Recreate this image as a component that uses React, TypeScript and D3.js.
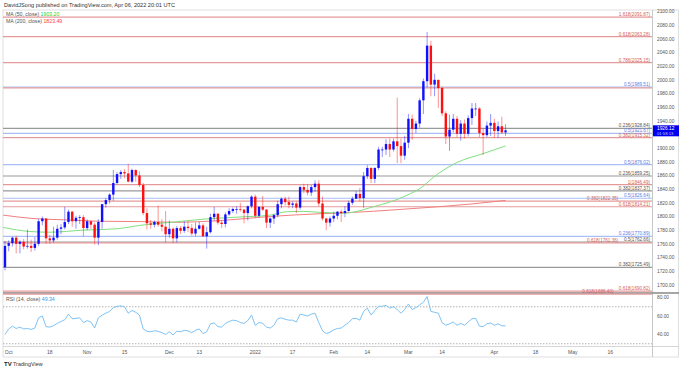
import React from 'react';
import * as d3 from 'd3';

// daily XAUUSD candles, index -1 = 2021-09-30, 0 = 2021-10-01 ...
const dates = [
  '09-30', '10-01', '10-04', '10-05', '10-06', '10-07', '10-08', '10-11', '10-12', '10-13', '10-14', '10-15',
  '10-18', '10-19', '10-20', '10-21', '10-22', '10-25', '10-26', '10-27', '10-28', '10-29',
  '11-01', '11-02', '11-03', '11-04', '11-05', '11-08', '11-09', '11-10', '11-11', '11-12', '11-15', '11-16',
  '11-17', '11-18', '11-19', '11-22', '11-23', '11-24', '11-25', '11-26', '11-29', '11-30',
  '12-01', '12-02', '12-03', '12-06', '12-07', '12-08', '12-09', '12-10', '12-13', '12-14', '12-15', '12-16',
  '12-17', '12-20', '12-21', '12-22', '12-23', '12-24', '12-27', '12-28', '12-29', '12-30', '12-31',
  '01-03', '01-04', '01-05', '01-06', '01-07', '01-10', '01-11', '01-12', '01-13', '01-14', '01-17', '01-18',
  '01-19', '01-20', '01-21', '01-24', '01-25', '01-26', '01-27', '01-28', '01-31',
  '02-01', '02-02', '02-03', '02-04', '02-07', '02-08', '02-09', '02-10', '02-11', '02-14', '02-15', '02-16',
  '02-17', '02-18', '02-21', '02-22', '02-23', '02-24', '02-25', '02-28',
  '03-01', '03-02', '03-03', '03-04', '03-07', '03-08', '03-09', '03-10', '03-11', '03-14', '03-15', '03-16',
  '03-17', '03-18', '03-21', '03-22', '03-23', '03-24', '03-25', '03-28', '03-29', '03-30', '03-31',
  '04-01', '04-04', '04-05', '04-06',
];
const opens = [
  1726, 1757, 1761, 1769, 1760, 1763, 1756, 1757, 1754, 1760, 1793, 1797,
  1768, 1765, 1769, 1782, 1784, 1792, 1807, 1793, 1798, 1799,
  1783, 1793, 1788, 1769, 1792, 1818, 1824, 1832, 1849, 1862, 1865, 1863,
  1851, 1868, 1860, 1846, 1805, 1790, 1788, 1792, 1788, 1785,
  1774, 1782, 1768, 1783, 1779, 1785, 1783, 1775, 1782, 1787, 1771, 1777,
  1799, 1804, 1791, 1789, 1803, 1808, 1811, 1811, 1810, 1805, 1815,
  1829, 1801, 1814, 1810, 1791, 1797, 1802, 1818, 1826, 1821, 1817, 1819,
  1813, 1843, 1839, 1835, 1843, 1848, 1819, 1797, 1791,
  1797, 1801, 1807, 1805, 1808, 1820, 1826, 1833, 1827, 1859, 1871, 1855,
  1871, 1898, 1898, 1906, 1898, 1910, 1903, 1889,
  1908, 1943, 1928, 1936, 1970, 1998, 2050, 1993, 2000, 1988, 1951, 1917,
  1927, 1943, 1921, 1936, 1921, 1944, 1958, 1958, 1922, 1919, 1933,
  1937, 1925, 1932, 1923,
];
const highs = [
  1764, 1765, 1770, 1772, 1765, 1767, 1781, 1766, 1770, 1796, 1800, 1797,
  1773, 1785, 1788, 1789, 1814, 1810, 1808, 1801, 1802, 1802,
  1796, 1794, 1791, 1796, 1818, 1827, 1834, 1868, 1865, 1868, 1869, 1877,
  1870, 1869, 1866, 1849, 1812, 1795, 1794, 1816, 1796, 1808,
  1794, 1784, 1786, 1786, 1793, 1793, 1789, 1791, 1792, 1790, 1785, 1804,
  1814, 1805, 1794, 1806, 1812, 1813, 1815, 1820, 1811, 1816, 1831,
  1832, 1815, 1830, 1811, 1799, 1804, 1823, 1828, 1829, 1829, 1822, 1822,
  1845, 1848, 1847, 1846, 1853, 1853, 1829, 1798, 1800,
  1807, 1808, 1810, 1815, 1823, 1829, 1837, 1842, 1865, 1875, 1872, 1872,
  1902, 1902, 1913, 1914, 1914, 1974, 1914, 1918,
  1950, 1949, 1940, 1973, 2002, 2070, 2057, 2009, 2000, 1990, 1954, 1949,
  1950, 1947, 1941, 1942, 1948, 1966, 1966, 1960, 1929, 1939, 1950,
  1943, 1939, 1946, 1935,
];
const lows = [
  1721, 1749, 1756, 1746, 1746, 1752, 1753, 1748, 1750, 1757, 1787, 1760,
  1760, 1762, 1766, 1774, 1781, 1789, 1785, 1782, 1789, 1771,
  1780, 1782, 1759, 1758, 1782, 1813, 1819, 1823, 1847, 1855, 1856, 1850,
  1849, 1851, 1843, 1802, 1781, 1782, 1784, 1785, 1778, 1762,
  1769, 1761, 1762, 1774, 1776, 1777, 1772, 1771, 1781, 1770, 1753, 1775,
  1794, 1788, 1783, 1784, 1801, 1805, 1804, 1807, 1790, 1794, 1812,
  1798, 1799, 1808, 1783, 1783, 1789, 1799, 1812, 1816, 1812, 1812, 1805,
  1810, 1834, 1831, 1830, 1836, 1815, 1794, 1780, 1785,
  1792, 1796, 1792, 1799, 1807, 1817, 1826, 1822, 1813, 1855, 1849, 1849,
  1868, 1887, 1890, 1887, 1895, 1878, 1878, 1883,
  1900, 1912, 1922, 1930, 1950, 1989, 1976, 1976, 1959, 1947, 1906, 1896,
  1923, 1916, 1911, 1914, 1917, 1934, 1947, 1916, 1890, 1916, 1918,
  1915, 1915, 1921, 1918,
];
const closes = [
  1757, 1761, 1769, 1760, 1763, 1756, 1757, 1754, 1760, 1793, 1797, 1768,
  1765, 1769, 1782, 1784, 1792, 1807, 1793, 1798, 1799, 1783,
  1793, 1788, 1769, 1792, 1818, 1824, 1832, 1849, 1862, 1865, 1863, 1851,
  1868, 1860, 1846, 1805, 1790, 1788, 1792, 1788, 1785, 1774,
  1782, 1768, 1783, 1779, 1785, 1783, 1775, 1782, 1787, 1771, 1777, 1799,
  1804, 1791, 1789, 1803, 1808, 1811, 1811, 1810, 1805, 1815, 1829,
  1801, 1814, 1810, 1791, 1797, 1802, 1818, 1826, 1821, 1817, 1819, 1813,
  1843, 1839, 1835, 1843, 1848, 1819, 1797, 1791, 1797,
  1801, 1807, 1805, 1808, 1820, 1826, 1833, 1827, 1859, 1871, 1855, 1871,
  1898, 1898, 1906, 1898, 1910, 1903, 1889, 1908,
  1943, 1928, 1936, 1970, 1998, 2050, 1993, 2000, 1988, 1951, 1917, 1927,
  1943, 1921, 1936, 1921, 1944, 1958, 1958, 1922, 1919, 1933, 1937,
  1925, 1932, 1923, 1926.12,
];
const rsiValues = [
  40, 46, 49, 46.5, 48, 46, 46.5, 45.5, 47, 58, 60, 48.5,
  48, 49.5, 52, 54, 56, 62, 57, 57.5, 58, 53,
  55, 53.5, 47, 58, 61, 63, 65, 69, 70.5, 71, 70, 63,
  66, 64, 61, 46, 43.5, 43, 44, 43.5, 42, 40,
  43, 39.5, 43.5, 43, 44.5, 44, 42, 44.5, 46, 41, 43, 51.5,
  52.5, 48.5, 48, 52, 54, 55.5, 55, 53, 52, 55, 61,
  50, 53, 52, 48, 47, 50, 57, 58, 56.5, 55.5, 55.5, 53.5,
  62, 61, 60, 62, 63, 53, 44, 41, 42.5,
  45, 46.5, 47, 50, 53, 57, 57.5, 55.5, 65, 68.5, 61, 66,
  70.5, 70.5, 71.5, 68.5, 70, 67, 63, 67,
  73, 67, 69, 72, 75, 81, 65, 64, 63, 53, 50, 51.5,
  53.5, 50, 52, 50, 53.5, 57, 57.5, 49, 48.5, 51.5, 52.5,
  50, 51.5, 49.5, 49.34,
];

// moving averages at a few bar positions
const ma50Idx = [-1.5, 5.7, 11, 20, 29, 35.2, 40.5, 44.5, 52, 61, 70, 74.5, 78.8, 83.3, 90, 97.5, 106.6, 110.9, 113.6, 120, 127, 133];
const ma50Vals = [1784, 1778, 1777, 1780, 1782, 1787, 1790, 1792, 1796, 1799, 1802, 1807, 1807.5, 1806, 1805, 1814, 1831, 1844, 1857, 1879, 1892, 1903.2];
const ma200Idx = [-1.5, 6.5, 15.6, 24.4, 35.2, 44.5, 56.6, 70, 83.3, 88.7, 106.6, 124.3, 133];
const ma200Vals = [1802, 1797, 1795, 1793, 1792.5, 1791.5, 1794, 1800, 1804, 1805, 1811, 1818.5, 1823.49];

const fibLabels = [
  '1.618(2091.87)', '0.618(2063.28)', '0.786(2025.15)', '0.5(1989.51)', '', '0.236(1928.84)', '0.5(1921.67)',
  '0.382(1915.32)', '0.5(1876.02)', '0.236(1859.25)', '1(1846.49)', '0.382(1837.37)', '0.5(1826.64)',
  '0.382(1822.35)', '0.618(1814.21)', '0.236(1770.89)', '0.5(1762.66)', '0.618(1761.36)', '0.382(1725.49)',
  '0.618(1690.82)', '0.618(1686.40)',
];
const fibValues = [
  2091.87, 2063.28, 2025.15, 1989.51, 1988.2, 1928.84, 1921.67, 1915.32, 1876.02, 1859.25, 1846.49, 1837.37,
  1826.64, 1822.35, 1814.21, 1770.89, 1762.66, 1761.36, 1725.49, 1690.82, 1686.4,
];
const fibKinds = [
  'r', 'r', 'r', 'b', 'r', 'g', 'b', 'r', 'b', 'g', 'r', 'g', 'b', 'r', 'r', 'b', 'g', 'r', 'g', 'r', 'r',
];

const priceTicks = [1700, 1720, 1740, 1760, 1780, 1800, 1820, 1840, 1860, 1880, 1900, 1920, 1940, 1960, 1980, 2000, 2020, 2040, 2060, 2080, 2100];
const rsiTicks = [40, 60, 80];
const timeLabels = ['Oct', '18', 'Nov', '15', 'Dec', '13', '2022', '17', 'Feb', '14', 'Mar', '14', 'Apr', '18', 'May', '16'];
const timeLabelIdx = [0, 11, 21, 31, 43, 51, 66, 76, 87, 96, 107, 116, 130, 141, 151, 161];

const W = 679;
const H = 370;
const FONT = '"Liberation Sans", Arial, sans-serif';
const UP = '#1010ff';
const DOWN = '#ff1010';
const kindColor: Record<string, string> = { r: '#e59a9a', b: '#a9bff5', g: '#9a9a9a' };
const labelColor: Record<string, string> = { r: '#d06060', b: '#5a7de0', g: '#555' };
const FIB_FS = 4.6;

export default function App() {
  const left = 3;
  const right = 652;
  const x = d3.scaleLinear().domain([-1.53, 172.2]).range([left, right]);
  const y = d3.scaleLinear().domain([1700, 2100]).range([284.8, 11.5]);
  const yr = d3.scaleLinear().domain([40, 80]).range([334.5, 297.5]);

  const bars = closes.map((c, i) => ({
    i: i - 1, o: opens[i], h: highs[i], l: lows[i], c, date: dates[i],
  }));
  const bw = 2.4;

  const ma50Path = d3.line<[number, number]>().x(d => x(d[0])).y(d => y(d[1])).curve(d3.curveMonotoneX)(
    ma50Idx.map((v, k) => [v, ma50Vals[k]]),
  );
  const ma200Path = d3.line<[number, number]>().x(d => x(d[0])).y(d => y(d[1])).curve(d3.curveMonotoneX)(
    ma200Idx.map((v, k) => [v, ma200Vals[k]]),
  );
  const rsiPath = d3.line<number>().x((_, k) => x(k - 1)).y(d => yr(d))(rsiValues);

  // fib labels sit at the right end of their line; labels that would sit on top of each other move left
  const placed: { y: number; x0: number }[] = [];
  const fibText = fibValues.map((v, k) => {
    if (!fibLabels[k]) return null;
    const ty = y(v) - 1;
    let xe = right - 2;
    const w = fibLabels[k].length * FIB_FS * 0.52;
    placed.forEach(p => {
      if (Math.abs(p.y - ty) < 4 && xe > p.x0 - 2) xe = p.x0 - 3;
    });
    placed.push({ y: ty, x0: xe - w });
    return { xe, ty };
  });

  const last = closes[closes.length - 1];
  const lastY = y(last);

  return (
    <svg width={W} height={H} style={{ position: 'absolute', left: 0, top: 0, background: '#fff' }} fontFamily={FONT}>
      <rect x={0} y={0} width={W} height={H} fill="#fff" />
      <text x={4} y={7} fontSize={5.6} fill="#333">DavidJSong published on TradingView.com, Apr 06, 2022 20:01 UTC</text>

      {/* frames */}
      <rect x={left} y={10} width={W - left - 0.5} height={347} fill="none" stroke="#d8d8d8" strokeWidth={0.8} />
      <line x1={right + 0.5} x2={right + 0.5} y1={10} y2={357} stroke="#bbb" strokeWidth={0.8} />
      <line x1={left} x2={W} y1={293} y2={293} stroke="#888" strokeWidth={1.6} />
      <line x1={left} x2={W} y1={346.5} y2={346.5} stroke="#ccc" strokeWidth={0.8} />

      {/* fib levels */}
      {fibValues.map((v, k) => (
        <line key={'f' + k} x1={left} x2={right} y1={y(v)} y2={y(v)} stroke={kindColor[fibKinds[k]]} strokeWidth={1.2} />
      ))}
      {fibText.map((p, k) => p && (
        <text key={'fl' + k} x={p.xe} y={p.ty} fontSize={FIB_FS} textAnchor="end" fill={labelColor[fibKinds[k]]}>{fibLabels[k]}</text>
      ))}

      {/* moving averages */}
      <path d={ma200Path || ''} fill="none" stroke="#f08080" strokeWidth={1} />
      <path d={ma50Path || ''} fill="none" stroke="#7fe07f" strokeWidth={1} />

      {/* candles */}
      {bars.map(b => {
        const up = b.c >= b.o;
        const col = up ? UP : DOWN;
        const cx = x(b.i);
        const top = y(Math.max(b.o, b.c));
        const bot = y(Math.min(b.o, b.c));
        return (
          <g key={b.date}>
            <line x1={cx} x2={cx} y1={y(b.h)} y2={y(b.l)} stroke={col} strokeOpacity={0.45} strokeWidth={1} />
            <rect x={cx - bw / 2} y={top} width={bw} height={Math.max(0.8, bot - top)} fill={col} />
          </g>
        );
      })}

      {/* legends */}
      <text x={6} y={16} fontSize={5.2} fill="#555">MA (50, close) <tspan fill="#2bd42b">1903.20</tspan></text>
      <text x={6} y={23} fontSize={5.2} fill="#555">MA (200, close) <tspan fill="#ff4040">1823.49</tspan></text>

      {/* price axis */}
      {priceTicks.map(t => (
        <text key={'p' + t} x={657} y={y(t) + 1.8} fontSize={4.8} fill="#555">{t.toFixed(2)}</text>
      ))}
      <rect x={right + 1} y={lastY - 5} width={W - right - 1} height={11} fill="#0000ee" />
      <text x={657} y={lastY - 0.3} fontSize={4.8} fill="#fff">{last.toFixed(2)}</text>
      <text x={657} y={lastY + 4.6} fontSize={4.2} fill="#c8c8ff">01:58:13</text>

      {/* RSI pane */}
      {[70, 30].map(t => (
        <line key={'d' + t} x1={left} x2={right} y1={yr(t)} y2={yr(t)} stroke="#aaa" strokeWidth={0.9} strokeDasharray="1.5,1.5" />
      ))}
      <path d={rsiPath || ''} fill="none" stroke="#7ec3f5" strokeWidth={1} />
      <text x={6} y={301} fontSize={5.2} fill="#555">RSI (14, close) <tspan fill="#3a9af0">49.34</tspan></text>
      {rsiTicks.map(t => (
        <text key={'r' + t} x={657} y={yr(t) + 1.8} fontSize={4.8} fill="#555">{t.toFixed(2)}</text>
      ))}

      {/* time axis */}
      {timeLabels.map((t, k) => (
        <text key={'t' + k} x={x(timeLabelIdx[k])} y={353.5} fontSize={5} textAnchor="middle" fill="#555">{t}</text>
      ))}

      {/* logo */}
      <text x={4} y={366} fontSize={6} fontWeight="bold" fill="#222">TV</text>
      <text x={13} y={366} fontSize={5.4} fill="#333">TradingView</text>
    </svg>
  );
}
